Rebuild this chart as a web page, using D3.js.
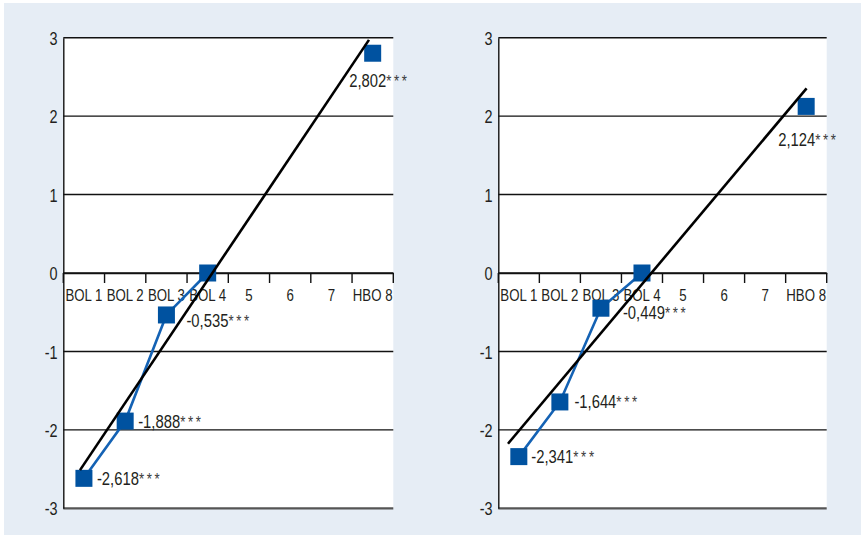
<!DOCTYPE html>
<html>
<head>
<meta charset="utf-8">
<script src="https://cdn.jsdelivr.net/npm/d3@7"></script>
<style>
  html, body { margin: 0; padding: 0; background: #ffffff; }
  svg { display: block; }
  text { font-family: "Liberation Sans", Arial, sans-serif; fill: #231f20; }
</style>
</head>
<body>
<svg id="chart" width="865" height="538"></svg>
<script>
// ---- data ----
const categories = ["BOL 1", "BOL 2", "BOL 3", "BOL 4", "5", "6", "7", "HBO 8"];
const yTicks = [-3, -2, -1, 0, 1, 2, 3];
const leftValues  = [-2.618, -1.888, -0.535, 0, null, null, null, 2.802];
const rightValues = [-2.341, -1.644, -0.449, 0, null, null, null, 2.124];
const leftLabels  = ["-2,618", "-1,888", "-0,535", null, null, null, null, "2,802"];
const rightLabels = ["-2,341", "-1,644", "-0,449", null, null, null, null, "2,124"];
const significance = ["***", "***", "***", null, null, null, null, "***"];
// trend line end points (category position, value)
const leftTrendX  = [0.905, 7.91];
const leftTrendY  = [-2.513, 2.972];
const rightTrendX = [0.736, 8.01];
const rightTrendY = [-2.177, 2.355];

// ---- layout ----
const svg = d3.select("#chart");
svg.append("rect").attr("x", 4).attr("y", 3).attr("width", 857).attr("height", 532).attr("fill", "#e6edf5");

const yTop = 37.7, yBottom = 508.3;
const y = d3.scaleLinear().domain([-3, 3]).range([yBottom, yTop]);
const squeeze = 0.78;

const panels = [
  { x0: 63.3, x1: 393.3, values: leftValues, labels: leftLabels, tx: leftTrendX, ty: leftTrendY,
    off: [[13, 7], [13, 6.5], [20, 12], null, null, null, null, [-23.5, 34]] },
  { x0: 498.3, x1: 826.7, values: rightValues, labels: rightLabels, tx: rightTrendX, ty: rightTrendY,
    off: [[12.5, 6], [14.5, 6], [22, 10.5], null, null, null, null, [-28, 40]] }
];

const blue = "#0052a0";

panels.forEach(p => {
  const g = svg.append("g");
  const x = d3.scaleBand().domain(categories).range([p.x0, p.x1]).paddingInner(0).paddingOuter(0);
  const xPos = d3.scaleLinear().domain([0.5, categories.length + 0.5]).range([p.x0, p.x1]);

  // plot area
  g.append("rect").attr("x", p.x0).attr("y", yTop).attr("width", p.x1 - p.x0).attr("height", yBottom - yTop).attr("fill", "#ffffff");

  // gridlines
  g.selectAll("line.grid").data(yTicks.filter(t => t !== -3)).join("line")
    .attr("x1", p.x0).attr("x2", p.x1)
    .attr("y1", d => y(d)).attr("y2", d => y(d))
    .attr("stroke", "#111").attr("stroke-width", 1.4);
  g.append("line").attr("x1", p.x0).attr("x2", p.x1).attr("y1", y(-3)).attr("y2", y(-3))
    .attr("stroke", "#555").attr("stroke-width", 2.2);

  // y axis
  const yAxis = d3.axisLeft(y).tickValues(yTicks).tickSize(0).tickPadding(0).tickFormat(d => String(d));
  const ya = g.append("g").attr("transform", `translate(${p.x0},0)`).call(yAxis);
  ya.select(".domain").attr("stroke", "#111").attr("stroke-width", 1.4);
  ya.selectAll("text").attr("font-size", 18.5).attr("x", -7.5).attr("dy", "0.36em")
    .attr("transform", `scale(${squeeze},1)`).style("font-family", null).style("fill", "#231f20");

  // x axis at 0
  const xAxis = d3.axisBottom(x).tickSize(0).tickPadding(0);
  const xa = g.append("g").attr("transform", `translate(0,${y(0)})`).call(xAxis);
  xa.select(".domain").attr("stroke", "#111").attr("stroke-width", 1.4);
  xa.selectAll(".tick text").attr("font-size", 17).attr("y", 28).attr("dy", 0)
    .attr("transform", `scale(${squeeze},1)`).style("font-family", null).style("fill", "#231f20");
  // tick marks at band boundaries
  const bounds = categories.map(c => x(c)).concat([p.x1]);
  g.selectAll("line.xtick").data(bounds).join("line")
    .attr("x1", d => d).attr("x2", d => d)
    .attr("y1", y(0)).attr("y2", y(0) + 10)
    .attr("stroke", "#111").attr("stroke-width", 1.4);

  // blue connecting line (with gaps)
  const pts = p.values.map((v, i) => ({ c: categories[i], v, i }));
  const line = d3.line().defined(d => d.v !== null).x(d => x(d.c) + x.bandwidth() / 2).y(d => y(d.v));
  g.append("path").datum(pts).attr("d", line).attr("fill", "none").attr("stroke", "#1462b4").attr("stroke-width", 2.6);

  // markers
  const ms = 17;
  g.selectAll("rect.marker").data(pts.filter(d => d.v !== null)).join("rect")
    .attr("x", d => x(d.c) + x.bandwidth() / 2 - ms / 2)
    .attr("y", d => y(d.v) - ms / 2)
    .attr("width", ms).attr("height", ms).attr("fill", blue);

  // trend line
  const trend = p.tx.map((t, i) => [xPos(t), y(p.ty[i])]);
  g.append("path").attr("d", d3.line()(trend)).attr("fill", "none").attr("stroke", "#000").attr("stroke-width", 2.6);

  // value labels
  const lab = pts.filter(d => p.labels[d.i] !== null);
  const tx = g.selectAll("text.val").data(lab).join("text")
    .attr("class", "val")
    .attr("transform", d => `translate(${x(d.c) + x.bandwidth() / 2 + p.off[d.i][0]},${y(d.v) + p.off[d.i][1]}) scale(${squeeze},1)`)
    .attr("font-size", 19);
  tx.append("tspan").text(d => p.labels[d.i]);
  tx.append("tspan").attr("letter-spacing", 3.4).attr("font-size", 17).style("fill", "#3a3a3a").text(d => significance[d.i]);
});
</script>
</body>
</html>
